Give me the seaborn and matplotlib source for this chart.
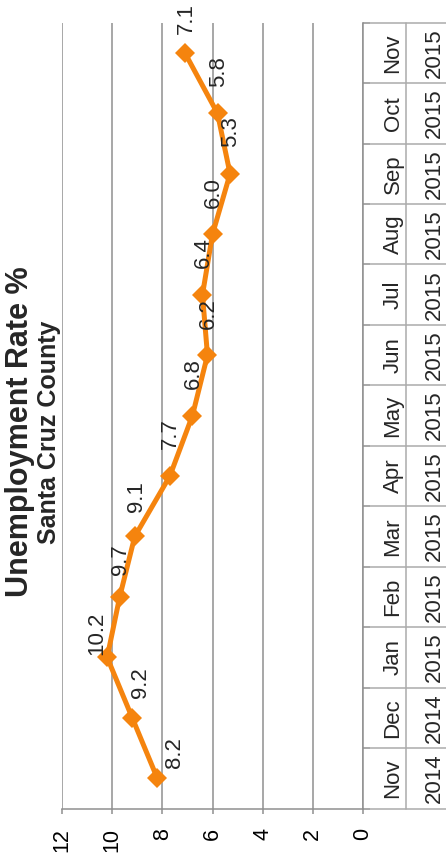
import numpy as np
import pandas as pd
import matplotlib
matplotlib.use("Agg")
import matplotlib.pyplot as plt
import matplotlib.transforms as mtransforms
import seaborn as sns

# Monthly unemployment rate, Santa Cruz County
months = ["Nov", "Dec", "Jan", "Feb", "Mar", "Apr", "May",
          "Jun", "Jul", "Aug", "Sep", "Oct", "Nov"]
years = ["2014", "2014", "2015", "2015", "2015", "2015", "2015",
         "2015", "2015", "2015", "2015", "2015", "2015"]
rates = [8.2, 9.2, 10.2, 9.7, 9.1, 7.7, 6.8, 6.2, 6.4, 6.0, 5.3, 5.8, 7.1]
value_ticks = [0, 2, 4, 6, 8, 10, 12]

title = "Unemployment Rate %"
subtitle = "Santa Cruz County"

ORANGE = "#F5840E"
GRID = "#8F8F8F"
TABLE = "#ABABAB"

sns.set_theme(style="white")
plt.rcParams["font.family"] = ["Liberation Sans", "DejaVu Sans"]

W, H = 446, 861
fig = plt.figure(figsize=(W / 100, H / 100), dpi=100)
ax = fig.add_axes([62 / W, 1 - 808.5 / H, 301 / W, (808.5 - 22.7) / H])

df = pd.DataFrame({"period": np.arange(len(rates)), "rate": rates})
sns.lineplot(data=df, x="rate", y="period", orient="y", sort=False,
             errorbar=None, color=ORANGE, linewidth=3.6, marker="D",
             markersize=10, markeredgewidth=0, ax=ax, zorder=5)

# value axis runs horizontally, high values on the left
ax.set_xlim(12, 0)
ax.set_ylim(-0.5, len(rates) - 0.5)
ax.set_xticks(value_ticks)
ax.set_xticklabels([str(v) for v in value_ticks], rotation=90,
                   fontsize=15.5, color="#000000")
ax.set_xlabel("")
ax.set_ylabel("")
ax.grid(axis="x", color=GRID, linewidth=1.1)
ax.grid(axis="y", visible=False)
ax.set_axisbelow(True)

for side in ("left", "top"):
    ax.spines[side].set_visible(False)
for side in ("bottom", "right"):
    ax.spines[side].set_color(GRID)
    ax.spines[side].set_linewidth(1.1)

ax.tick_params(axis="x", which="major", length=3.8, width=1.1, color=GRID,
               pad=10, direction="out", bottom=True)

# category axis on the right: boundary ticks only
ax.yaxis.tick_right()
bounds = np.arange(-0.5, len(rates), 1.0)
ax.set_yticks(bounds)
ax.set_yticklabels([])
ax.tick_params(axis="y", which="major", length=5, width=1.1, color=GRID,
               direction="out", right=True, left=False)

# two-row category table (month / year)
blend = mtransforms.blended_transform_factory(ax.transAxes, ax.transData)
x_div = (405.7 - 62) / 301
x_end = (W - 62) / 301 + 0.01
for b in bounds:
    ax.plot([1.0, x_end], [b, b], transform=blend, color=TABLE,
            linewidth=1.1, clip_on=False)
ax.plot([x_div, x_div], [-0.5, len(rates) - 0.5], transform=blend,
        color=TABLE, linewidth=1.1, clip_on=False)

x_month = (393.0 - 62) / 301
x_year = (434.0 - 62) / 301
for i, (m, y) in enumerate(zip(months, years)):
    ax.text(x_month, i, m, transform=blend, rotation=90, ha="center",
            va="center", fontsize=16, clip_on=False)
    ax.text(x_year, i, y, transform=blend, rotation=90, ha="center",
            va="center", fontsize=16, clip_on=False)

# value labels next to each point (pixel offsets)
label_offsets = {0: (17, 26), 1: (8, 35), 2: (-10, 24), 3: (1, 37),
                 4: (2, 40), 12: (1, 34)}
for i, v in enumerate(rates):
    dx, dy = label_offsets.get(i, (1, 42))
    ax.annotate(f"{v:.1f}", xy=(v, i), xytext=(dx, dy),
                textcoords="offset pixels", rotation=90, ha="center",
                va="center", fontsize=16, zorder=6)

fig.text(20 / W, 1 - 432 / H, title, rotation=90, ha="center", va="center",
         fontsize=22, fontweight="bold")
fig.text(49 / W, 1 - 432 / H, subtitle, rotation=90, ha="center",
         va="center", fontsize=18, fontweight="bold")

fig.savefig("out.png", dpi=100)
